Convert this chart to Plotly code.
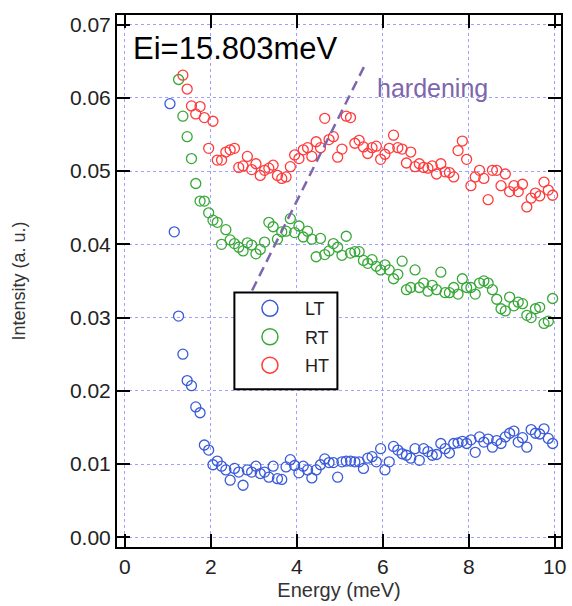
import plotly.graph_objects as go

# ---------------- data ----------------
ENERGY = [1.05, 1.15, 1.25, 1.35, 1.45, 1.55, 1.65, 1.75, 1.85, 1.95,
          2.05, 2.15, 2.25, 2.35, 2.45, 2.55, 2.65, 2.75, 2.85, 2.95,
          3.05, 3.15, 3.25, 3.35, 3.45, 3.55, 3.65, 3.75, 3.85, 3.95,
          4.05, 4.15, 4.25, 4.35, 4.45, 4.55, 4.65, 4.75, 4.85, 4.95,
          5.05, 5.15, 5.25, 5.35, 5.45, 5.55, 5.65, 5.75, 5.85, 5.95,
          6.05, 6.15, 6.25, 6.35, 6.45, 6.55, 6.65, 6.75, 6.85, 6.95,
          7.05, 7.15, 7.25, 7.35, 7.45, 7.55, 7.65, 7.75, 7.85, 7.95,
          8.05, 8.15, 8.25, 8.35, 8.45, 8.55, 8.65, 8.75, 8.85, 8.95,
          9.05, 9.15, 9.25, 9.35, 9.45, 9.55, 9.65, 9.75, 9.85, 9.95]

LT_Y = [0.0592, 0.0417, 0.0302, 0.0250, 0.0214, 0.0207, 0.0178, 0.0170, 0.0126, 0.0119,
        0.0099, 0.0104, 0.0097, 0.0092, 0.0078, 0.0094, 0.0089, 0.0071, 0.0092, 0.0089,
        0.0097, 0.0087, 0.0089, 0.0082, 0.0097, 0.0080, 0.0079, 0.0096, 0.0106, 0.0098,
        0.0088, 0.0097, 0.0092, 0.0081, 0.0092, 0.0099, 0.0107, 0.0102, 0.0102, 0.0082,
        0.0103, 0.0104, 0.0104, 0.0103, 0.0103, 0.0094, 0.0108, 0.0110, 0.0103, 0.0121,
        0.0092, 0.0103, 0.0124, 0.0119, 0.0114, 0.0112, 0.0108, 0.0121, 0.0105, 0.0121,
        0.0117, 0.0112, 0.0113, 0.0128, 0.0121, 0.0115, 0.0128, 0.0129, 0.0131, 0.0128,
        0.0133, 0.0116, 0.0137, 0.0130, 0.0134, 0.0123, 0.0132, 0.0128, 0.0137, 0.0142,
        0.0145, 0.0130, 0.0136, 0.0123, 0.0147, 0.0142, 0.0141, 0.0148, 0.0135, 0.0128]

RT_X = ENERGY[2:]
RT_Y = [0.0625, 0.0575, 0.0547, 0.0517, 0.0483, 0.0459, 0.0459, 0.0443,
        0.0433, 0.0430, 0.0400, 0.0420, 0.0406, 0.0401, 0.0396, 0.0391, 0.0402, 0.0399,
        0.0387, 0.0393, 0.0403, 0.0430, 0.0424, 0.0407, 0.0417, 0.0418, 0.0435, 0.0416,
        0.0425, 0.0410, 0.0418, 0.0407, 0.0383, 0.0408, 0.0386, 0.0391, 0.0401, 0.0396,
        0.0385, 0.0411, 0.0388, 0.0390, 0.0390, 0.0378, 0.0374, 0.0379, 0.0370, 0.0365,
        0.0372, 0.0365, 0.0353, 0.0359, 0.0377, 0.0338, 0.0341, 0.0365, 0.0341, 0.0347,
        0.0336, 0.0344, 0.0338, 0.0362, 0.0334, 0.0334, 0.0341, 0.0332, 0.0353, 0.0341,
        0.0341, 0.0332, 0.0347, 0.0350, 0.0347, 0.0338, 0.0325, 0.0312, 0.0309, 0.0328,
        0.0316, 0.0321, 0.0319, 0.0303, 0.0300, 0.0312, 0.0314, 0.0292, 0.0295, 0.0326]

HT_X = ENERGY[3:]
HT_Y = [0.0631, 0.0612, 0.0589, 0.0578, 0.0588, 0.0573, 0.0531,
        0.0568, 0.0515, 0.0515, 0.0526, 0.0529, 0.0531, 0.0505, 0.0507, 0.0520, 0.0502,
        0.0510, 0.0494, 0.0501, 0.0504, 0.0508, 0.0494, 0.0490, 0.0492, 0.0506, 0.0522,
        0.0517, 0.0529, 0.0532, 0.0520, 0.0540, 0.0532, 0.0572, 0.0543, 0.0547, 0.0519,
        0.0530, 0.0575, 0.0573, 0.0538, 0.0542, 0.0533, 0.0524, 0.0532, 0.0534, 0.0516,
        0.0523, 0.0531, 0.0549, 0.0532, 0.0530, 0.0511, 0.0526, 0.0506, 0.0510, 0.0505,
        0.0504, 0.0507, 0.0496, 0.0510, 0.0499, 0.0498, 0.0492, 0.0528, 0.0541, 0.0516,
        0.0480, 0.0492, 0.0501, 0.0490, 0.0461, 0.0501, 0.0501, 0.0480, 0.0496, 0.0472,
        0.0480, 0.0472, 0.0482, 0.0451, 0.0463, 0.0470, 0.0466, 0.0485, 0.0474, 0.0467]

SERIES_NAMES = ["LT", "RT", "HT"]
X_TICKS = [0, 2, 4, 6, 8, 10]
Y_TICKS = [0.00, 0.01, 0.02, 0.03, 0.04, 0.05, 0.06, 0.07]

# guide line ("hardening") end points, data units
HARD_X = [2.96, 5.56]
HARD_Y = [0.0337, 0.0642]

# ---------------- style ----------------
COLORS = {"LT": "#3a5bd9", "RT": "#38a838", "HT": "#ff3b3b"}
PURPLE = "#7d66ad"
FONT = "Liberation Sans, Arial, sans-serif"
GRID = "rgba(150,150,255,0.9)"

fig = go.Figure()

for name, xs, ys in [("LT", ENERGY, LT_Y), ("RT", RT_X, RT_Y), ("HT", HT_X, HT_Y)]:
    fig.add_trace(go.Scatter(
        x=xs, y=ys, mode="markers", showlegend=False, name=name,
        marker=dict(symbol="circle-open", size=10, color=COLORS[name],
                    line=dict(width=1.3, color=COLORS[name])),
    ))

# legend entries (larger symbols, as in the original legend)
for name in SERIES_NAMES:
    fig.add_trace(go.Scatter(
        x=[None], y=[None], mode="markers", name="\u00a0\u00a0\u00a0" + name,
        legendgroup=name,
        marker=dict(symbol="circle-open", size=16, color=COLORS[name],
                    line=dict(width=1.5, color=COLORS[name])),
    ))

axis_common = dict(
    showline=True, linecolor="black", linewidth=2, mirror="ticks",
    ticks="inside", ticklen=13, tickwidth=2, tickcolor="black",
    showgrid=True, gridcolor=GRID, gridwidth=1, griddash="dot",
    zeroline=False,
    tickfont=dict(family=FONT, size=21, color="#222"),
)

fig.update_layout(
    width=572, height=606,
    margin=dict(l=117, r=6, t=15, b=59),
    paper_bgcolor="white", plot_bgcolor="white",
    xaxis=dict(range=[-0.182, 10.145], tickvals=X_TICKS,
               title=dict(text="Energy (meV)", font=dict(family=FONT, size=20, color="#333"),
                          standoff=6),
               **axis_common),
    yaxis=dict(range=[-0.00133, 0.07131], tickvals=Y_TICKS, tickformat=".2f",
               title=dict(text="Intensity (a. u.)", font=dict(family=FONT, size=18, color="#333"),
                          standoff=40),
               **axis_common),
    legend=dict(x=0.2994, y=0.4828, xanchor="left", yanchor="top",
                bgcolor="rgba(0,0,0,0)", borderwidth=0,
                font=dict(family=FONT, size=18, color="#222"),
                traceorder="grouped", tracegroupgap=2),
    shapes=[
        dict(type="line", xref="x", yref="y",
             x0=HARD_X[0], y0=HARD_Y[0], x1=HARD_X[1], y1=HARD_Y[1],
             line=dict(color=PURPLE, width=2.5, dash="10px,6px"), layer="above"),
        dict(type="rect", xref="paper", yref="paper",
             x0=0.2644, x1=0.4964, y0=0.2966, y1=0.4785,
             line=dict(color="black", width=2), fillcolor="white", layer="above"),
    ],
    annotations=[
        dict(text="Ei=15.803meV", x=0.15, y=0.0668, xref="x", yref="y",
             xanchor="left", yanchor="middle", showarrow=False,
             font=dict(family=FONT, size=31, color="black")),
        dict(text="hardening", x=5.83, y=0.0613, xref="x", yref="y",
             xanchor="left", yanchor="middle", showarrow=False,
             font=dict(family=FONT, size=25, color=PURPLE)),
    ],
)

fig.write_html(
    "out.html",
    config={"displayModeBar": False},
    post_script="document.body.style.margin='0';document.body.style.overflow='hidden';",
)
